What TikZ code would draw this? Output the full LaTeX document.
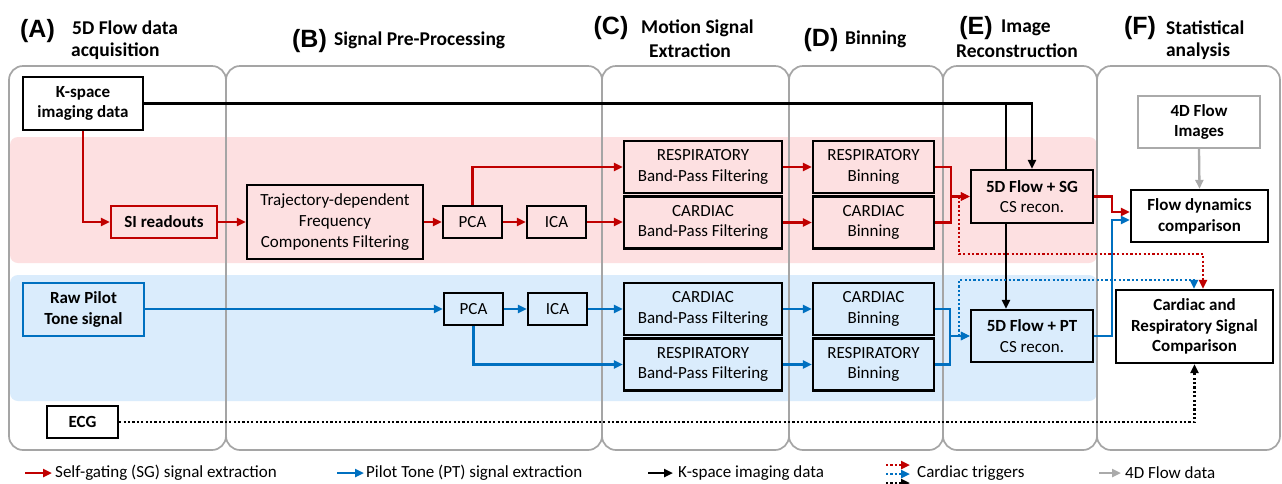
\documentclass[tikz,border=0pt]{standalone}
\usepackage{fontspec}
\setmainfont{Carlito}
\newfontfamily\arialf{Liberation Sans}
\usetikzlibrary{arrows.meta,calc}
\definecolor{sgred}{RGB}{192,0,0}
\definecolor{ptblue}{RGB}{0,112,192}
\definecolor{pinkbg}{RGB}{253,224,225}
\definecolor{bluebg}{RGB}{218,236,252}
\definecolor{panelgray}{RGB}{165,165,165}
\definecolor{flowgray}{RGB}{170,170,170}
\begin{document}
\begin{tikzpicture}[x=1pt,y=-1pt,
  every node/.style={font=\fontsize{17}{20.8}\selectfont},
  box/.style={draw=black, line width=2.3pt, inner sep=0pt, align=center},
  pinkbox/.style={box, fill=pinkbg},
  bluebox/.style={box, fill=bluebg},
  whitebox/.style={box, fill=white, font=\fontsize{17}{20.8}\selectfont\bfseries},
  panel/.style={draw=panelgray, line width=1.7pt, rounded corners=14pt},
  band/.style={rounded corners=8pt},
  letter/.style={font=\fontsize{25}{28}\selectfont\arialf\bfseries, inner sep=0pt},
  ttl/.style={font=\fontsize{19.5}{23.5}\selectfont\bfseries, inner sep=0pt},
  legtext/.style={font=\fontsize{17}{20.8}\selectfont, inner sep=0pt, anchor=west},
  tip/.style={-{Triangle[length=9pt,width=8pt]}},
  sgline/.style={draw=sgred, line width=2.3pt, tip},
  ptline/.style={draw=ptblue, line width=2.3pt, tip},
  kline/.style={draw=black, line width=2.6pt, tip},
  kplain/.style={draw=black, line width=2.6pt},
  grayline/.style={draw=flowgray, line width=2.3pt, tip},
  sgdot/.style={draw=sgred, line width=2.3pt, dash pattern=on 2.2pt off 2.2pt, tip},
  ptdot/.style={draw=ptblue, line width=2.3pt, dash pattern=on 2.2pt off 2.2pt, tip},
  kdot/.style={draw=black, line width=2.3pt, dash pattern=on 2.2pt off 2.2pt, tip},
]
\useasboundingbox (0,0) rectangle (1282,483);
\fill[white] (0,0) rectangle (1282,483);

% background bands
\fill[band, pinkbg] (10,137) rectangle (1097,263);
\fill[band, bluebg] (10,275) rectangle (1097,401);

% panels
\draw[panel] (9,66) rectangle (226,450);
\draw[panel] (226,66) rectangle (602,450);
\draw[panel] (602,66) rectangle (789,450);
\draw[panel] (789,66) rectangle (943,450);
\draw[panel] (943,66) rectangle (1097,450);
\draw[panel] (1097,66) rectangle (1280,450);

% titles
\node[letter] (tA) at (37.5,31) {(A)};
\node[ttl, anchor=west] (tA1) at (72,28) {5D Flow data};
\node[ttl, anchor=west] (tA2) at (71,51) {acquisition};
\node[letter] (tB) at (309.5,41) {(B)};
\node[ttl, anchor=west] (tB1) at (334,40) {Signal Pre-Processing};
\node[letter] (tC) at (611,28) {(C)};
\node[ttl, anchor=west] (tC1) at (641,28) {Motion Signal};
\node[ttl] (tC2) at (690,51) {Extraction};
\node[letter] (tD) at (821,40) {(D)};
\node[ttl, anchor=west] (tD1) at (845,39) {Binning};
\node[letter] (tE) at (976,28) {(E)};
\node[ttl, anchor=west] (tE1) at (1001,28) {Image};
\node[ttl] (tE2) at (1017,51) {Reconstruction};
\node[letter] (tF) at (1140,28) {(F)};
\node[ttl, anchor=west] (tF1) at (1166,28) {Statistical};
\node[ttl] (tF2) at (1198,51) {analysis};

% column A
\node[whitebox, minimum width=120pt, minimum height=53pt] (kspace) at (83,103.5) {K-space\\imaging data};
\node[box, draw=sgred, fill=pinkbg, font=\fontsize{17}{20.8}\selectfont\bfseries, minimum width=106pt, minimum height=32pt] (si) at (164,222) {SI readouts};
\node[box, draw=ptblue, fill=bluebg, font=\fontsize{17}{20.8}\selectfont\bfseries, minimum width=121pt, minimum height=53pt] (raw) at (83.5,309.5) {Raw Pilot\\Tone signal};
\node[whitebox, minimum width=71pt, minimum height=32pt] (ecg) at (82.5,422) {ECG};

% column B
\node[pinkbox, minimum width=176pt, minimum height=74pt] (traj) at (335,222) {Trajectory-dependent\\Frequency\\Components Filtering};
\node[pinkbox, minimum width=59pt, minimum height=32pt] (pcaR) at (472.5,222) {PCA};
\node[pinkbox, minimum width=59pt, minimum height=32pt] (icaR) at (556.5,222) {ICA};
\node[bluebox, minimum width=59pt, minimum height=32pt] (pcaB) at (473.5,309) {PCA};
\node[bluebox, minimum width=59pt, minimum height=32pt] (icaB) at (557.5,309) {ICA};

% column C
\node[pinkbox, minimum width=158pt, minimum height=52pt] (respC) at (703,167) {RESPIRATORY\\Band-Pass Filtering};
\node[pinkbox, minimum width=158pt, minimum height=52pt] (cardC) at (703,222.5) {CARDIAC\\Band-Pass Filtering};
\node[bluebox, minimum width=158pt, minimum height=52pt] (cardCB) at (703,309) {CARDIAC\\Band-Pass Filtering};
\node[bluebox, minimum width=158pt, minimum height=52pt] (respCB) at (703,364.5) {RESPIRATORY\\Band-Pass Filtering};

% column D
\node[pinkbox, minimum width=121pt, minimum height=52pt] (respD) at (873.5,167) {RESPIRATORY\\Binning};
\node[pinkbox, minimum width=121pt, minimum height=52pt] (cardD) at (873.5,222.5) {CARDIAC\\Binning};
\node[bluebox, minimum width=121pt, minimum height=52pt] (cardDB) at (873.5,309) {CARDIAC\\Binning};
\node[bluebox, minimum width=121pt, minimum height=52pt] (respDB) at (873.5,364.5) {RESPIRATORY\\Binning};

% column E: black branch drawn before the SG box
\coordinate (kj) at (1006,103.5);
\coordinate (kjend) at (1006,185);
\draw[kplain] (kj) -- (kjend);
\node[pinkbox, minimum width=122pt, minimum height=53pt] (sg) at (1032,196.5) {\textbf{5D Flow + SG}\\CS recon.};
\node[bluebox, minimum width=122pt, minimum height=52pt] (pt) at (1032,336) {\textbf{5D Flow + PT}\\CS recon.};

% column F
\node[box, draw=flowgray, fill=white, font=\fontsize{17}{20.8}\selectfont\bfseries, minimum width=122pt, minimum height=52pt] (fourd) at (1199,122) {4D Flow\\Images};
\node[whitebox, minimum width=137pt, minimum height=52pt] (flowdyn) at (1199.5,216) {Flow dynamics\\comparison};
\node[whitebox, minimum width=157pt, minimum height=73pt] (cardresp) at (1194.5,326.5) {Cardiac and\\Respiratory Signal\\Comparison};

% junction coordinates
\coordinate (rj) at (951,0);
\coordinate (bj) at (950,0);
\coordinate (fj) at (1112,0);
\coordinate (tj) at (959,196.5);
\coordinate (tr) at (959,254);
\coordinate (tb) at (959,280);

% black k-space connectors
\draw[kline] (kspace.east) -| (sg.north);
\draw[kline] (kj |- sg.south) -- (kj |- pt.north);

% red SG path
\draw[sgline] (kspace.south) |- (si.west);
\draw[sgline] (si.east) -- (traj.west);
\draw[sgline] (traj.east) -- (pcaR.west);
\draw[sgline] (pcaR.east) -- (icaR.west);
\draw[sgline] (pcaR.north) |- (respC.west);
\draw[sgline] (icaR.east) -- (cardC.west |- icaR.east);
\draw[sgline] (respC.east) -- (respD.west);
\draw[sgline] (cardC.east) -- (cardD.west);
\draw[sgline] (respD.east) -- (respD.east -| rj) |- (sg.west);
\draw[sgline] (cardD.east) -- (cardD.east -| rj) |- (sg.west);
\draw[sgline] (sg.east) -- (sg.east -| fj) |- ($(flowdyn.west)+(0,-4)$);

% blue PT path
\draw[ptline] (raw.east |- pcaB.west) -- (pcaB.west);
\draw[ptline] (pcaB.east) -- (icaB.west);
\draw[ptline] (icaB.east) -- (cardCB.west);
\draw[ptline] (pcaB.south) |- (respCB.west);
\draw[ptline] (cardCB.east) -- (cardDB.west);
\draw[ptline] (respCB.east) -- (respDB.west);
\draw[ptline] (cardDB.east) -- (cardDB.east -| bj) |- (pt.west);
\draw[ptline] (respDB.east) -- (respDB.east -| bj) |- (pt.west);
\draw[ptline] (pt.east) -- (pt.east -| fj) |- ($(flowdyn.west)+(0,4)$);

% cardiac triggers (dotted)
\draw[sgdot] (tj) -- (tr) -| ($(cardresp.north)+(8.5,0)$);
\draw[ptdot] (tj |- pt.west) -- (tb) -| ($(cardresp.north)+(-0.5,0)$);
\draw[kdot] (ecg.east) -| (cardresp.south);

% 4D flow data
\draw[grayline] (fourd.south) -- (flowdyn.north);

% legend
\coordinate (l1a) at (25,473); \coordinate (l1b) at (52,473);
\draw[sgline] (l1a) -- (l1b);
\node[legtext] (l1t) at (55,473) {Self-gating (SG) signal extraction};
\coordinate (l2a) at (337,473); \coordinate (l2b) at (364,473);
\draw[ptline] (l2a) -- (l2b);
\node[legtext] (l2t) at (366,473) {Pilot Tone (PT) signal extraction};
\coordinate (l3a) at (648,473); \coordinate (l3b) at (673,473);
\draw[kline] (l3a) -- (l3b);
\node[legtext] (l3t) at (678,473) {K-space imaging data};
\coordinate (l4a) at (886,465); \coordinate (l4b) at (910,465);
\coordinate (l5a) at (886,474); \coordinate (l5b) at (910,474);
\coordinate (l6a) at (886,483); \coordinate (l6b) at (910,483);
\draw[sgdot] (l4a) -- (l4b);
\draw[ptdot] (l5a) -- (l5b);
\draw[kdot] (l6a) -- (l6b);
\node[legtext] (l4t) at (917,473) {Cardiac triggers};
\coordinate (l7a) at (1099,473); \coordinate (l7b) at (1121,473);
\draw[grayline] (l7a) -- (l7b);
\node[legtext] (l7t) at (1125,473) {4D Flow data};
\end{tikzpicture}
\end{document}
